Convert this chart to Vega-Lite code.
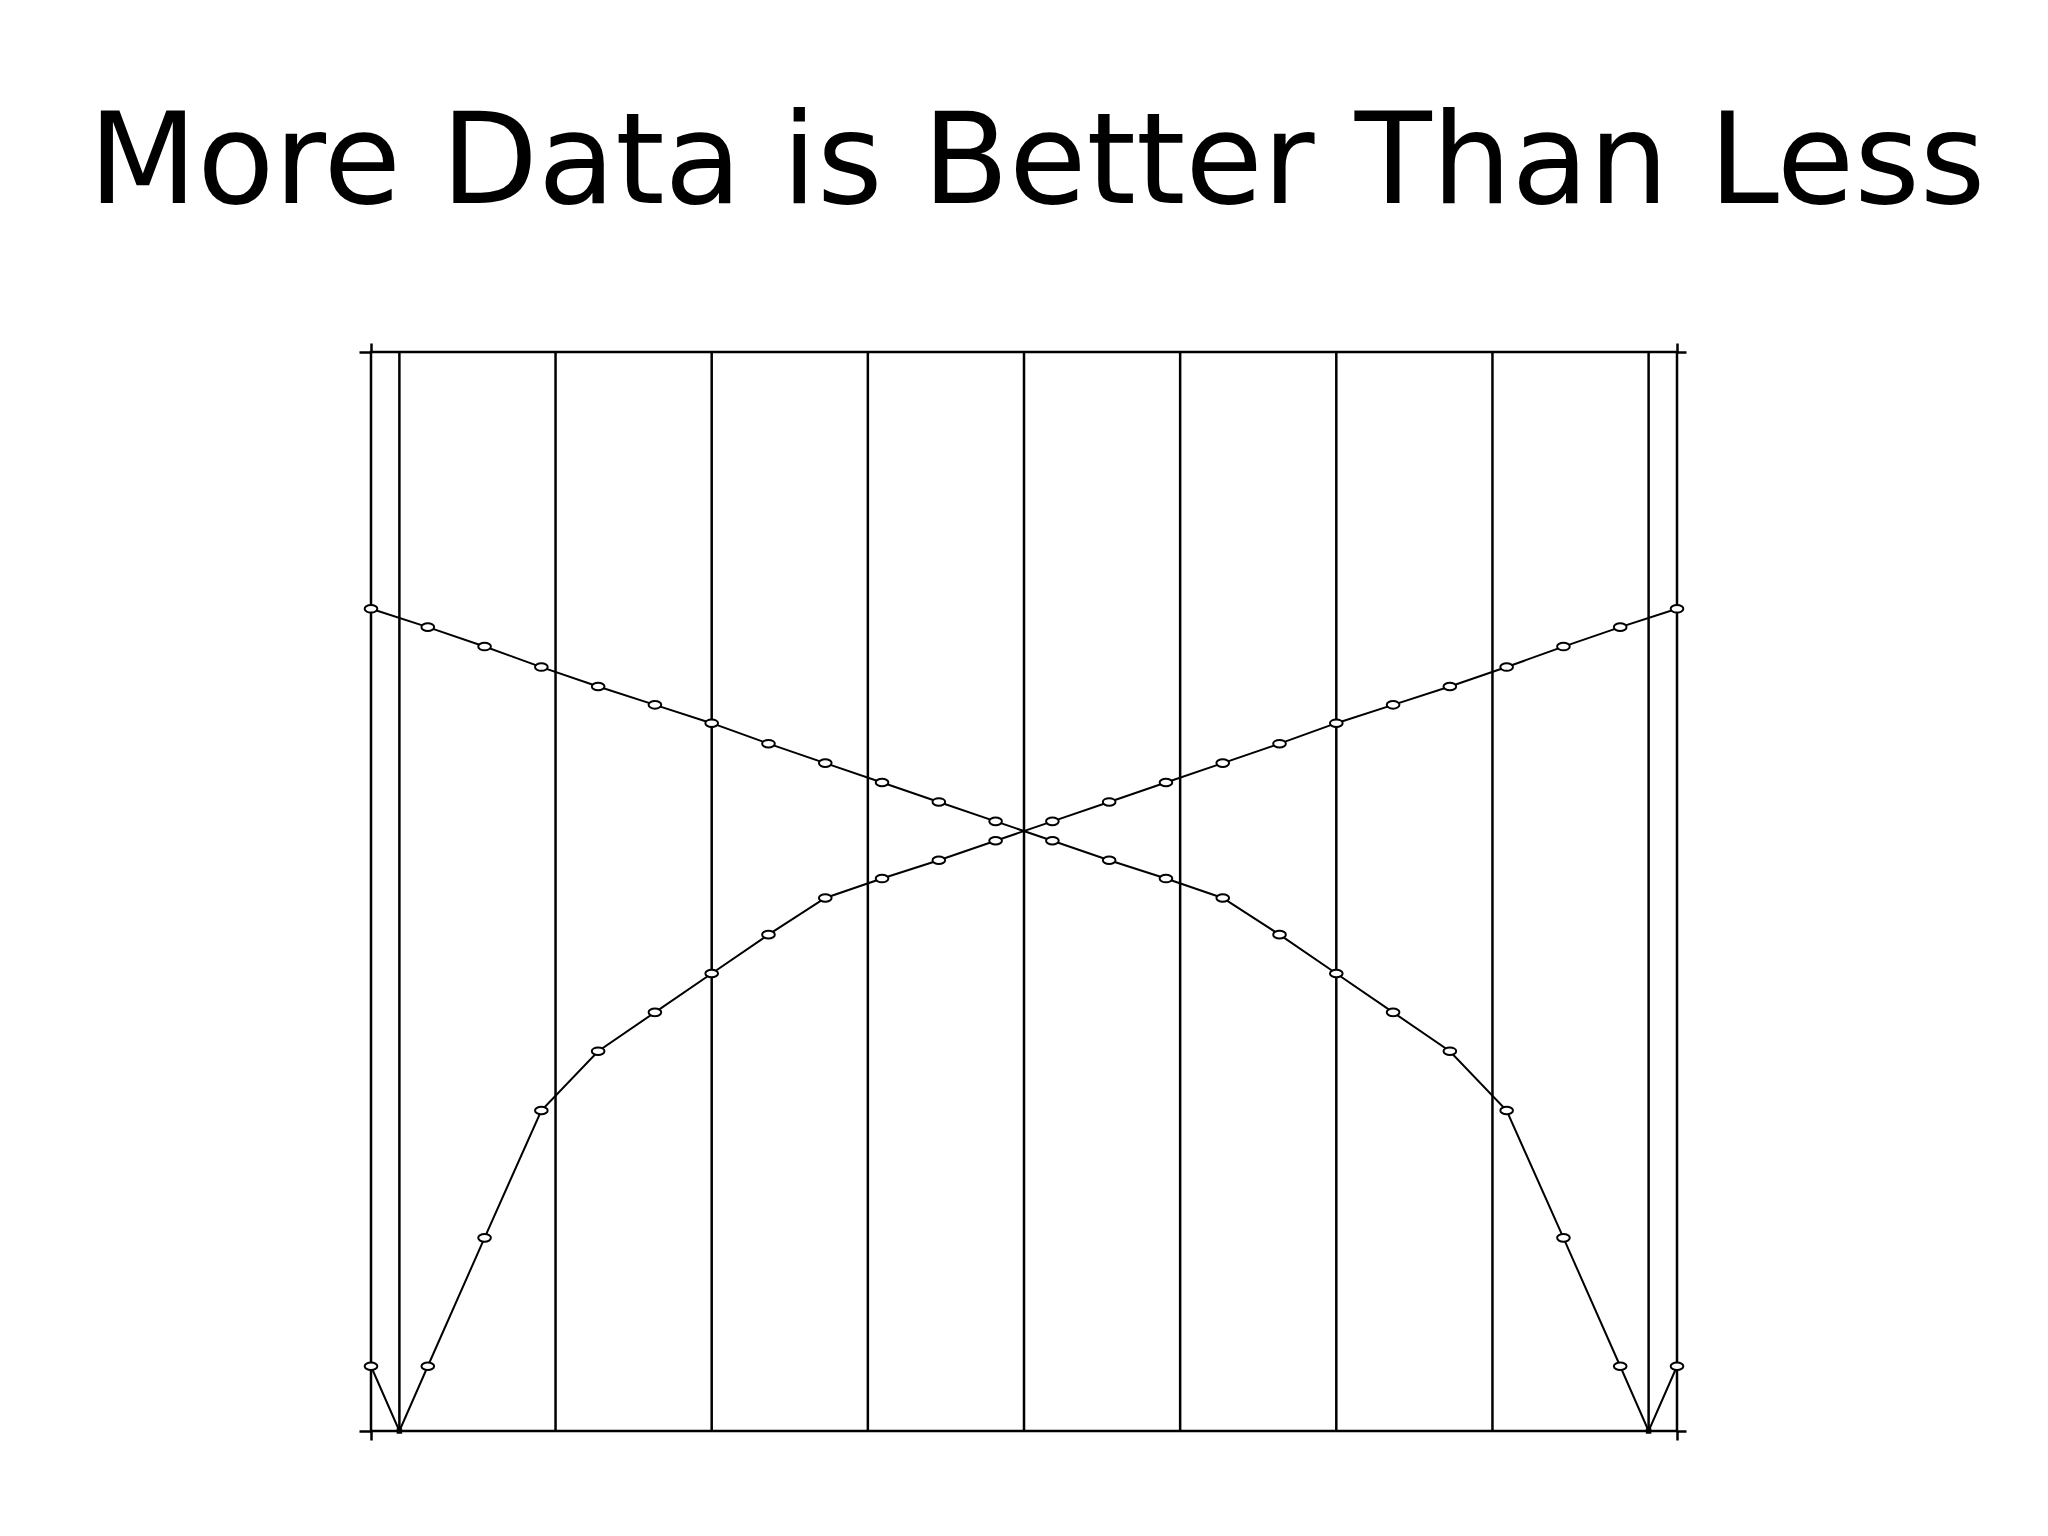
{
  "$schema": "https://vega.github.io/schema/vega-lite/v6.json",
  "width": 1306,
  "height": 1079,
  "autosize": "none",
  "padding": {"left": 371, "top": 352, "right": 371, "bottom": 105},
  "background": "white",
  "title": {
    "text": "More Data is Better Than Less",
    "font": "DejaVu Sans",
    "fontSize": 126,
    "fontWeight": "normal",
    "color": "black",
    "anchor": "middle",
    "baseline": "alphabetic",
    "offset": 13,
    "dx": 13
  },
  "config": {
    "view": {"stroke": "black", "strokeWidth": 2.5},
    "axis": {"labels": false, "domain": false, "grid": false, "title": null, "tickColor": "black", "tickWidth": 2.5}
  },
  "datasets": {
    "curves": [
      {"series": "A", "x": 0, "y": 76.2},
      {"series": "A", "x": 1, "y": 74.5},
      {"series": "A", "x": 2, "y": 72.7},
      {"series": "A", "x": 3, "y": 70.8},
      {"series": "A", "x": 4, "y": 69.0},
      {"series": "A", "x": 5, "y": 67.3},
      {"series": "A", "x": 6, "y": 65.6},
      {"series": "A", "x": 7, "y": 63.7},
      {"series": "A", "x": 8, "y": 61.9},
      {"series": "A", "x": 9, "y": 60.1},
      {"series": "A", "x": 10, "y": 58.3},
      {"series": "A", "x": 11, "y": 56.5},
      {"series": "A", "x": 12, "y": 54.7},
      {"series": "A", "x": 13, "y": 52.9},
      {"series": "A", "x": 14, "y": 51.2},
      {"series": "A", "x": 15, "y": 49.4},
      {"series": "A", "x": 16, "y": 46.0},
      {"series": "A", "x": 17, "y": 42.4},
      {"series": "A", "x": 18, "y": 38.8},
      {"series": "A", "x": 19, "y": 35.2},
      {"series": "A", "x": 20, "y": 29.7},
      {"series": "A", "x": 21, "y": 17.9},
      {"series": "A", "x": 22, "y": 6.0},
      {"series": "A", "x": 22.5, "y": 0},
      {"series": "A", "x": 23, "y": 6.0},
      {"series": "B", "x": 0, "y": 6.0},
      {"series": "B", "x": 0.5, "y": 0},
      {"series": "B", "x": 1, "y": 6.0},
      {"series": "B", "x": 2, "y": 17.9},
      {"series": "B", "x": 3, "y": 29.7},
      {"series": "B", "x": 4, "y": 35.2},
      {"series": "B", "x": 5, "y": 38.8},
      {"series": "B", "x": 6, "y": 42.4},
      {"series": "B", "x": 7, "y": 46.0},
      {"series": "B", "x": 8, "y": 49.4},
      {"series": "B", "x": 9, "y": 51.2},
      {"series": "B", "x": 10, "y": 52.9},
      {"series": "B", "x": 11, "y": 54.7},
      {"series": "B", "x": 12, "y": 56.5},
      {"series": "B", "x": 13, "y": 58.3},
      {"series": "B", "x": 14, "y": 60.1},
      {"series": "B", "x": 15, "y": 61.9},
      {"series": "B", "x": 16, "y": 63.7},
      {"series": "B", "x": 17, "y": 65.6},
      {"series": "B", "x": 18, "y": 67.3},
      {"series": "B", "x": 19, "y": 69.0},
      {"series": "B", "x": 20, "y": 70.8},
      {"series": "B", "x": 21, "y": 72.7},
      {"series": "B", "x": 22, "y": 74.5},
      {"series": "B", "x": 23, "y": 76.2}
    ],
    "grid": [
      {"gx": 0.5}, {"gx": 3.25}, {"gx": 6}, {"gx": 8.75}, {"gx": 11.5},
      {"gx": 14.25}, {"gx": 17}, {"gx": 19.75}, {"gx": 22.5}
    ]
  },
  "resolve": {"axis": {"x": "independent", "y": "independent"}},
  "layer": [
    {
      "data": {"name": "grid"},
      "mark": {"type": "rule", "color": "black", "strokeWidth": 2.5},
      "encoding": {
        "x": {"field": "gx", "type": "quantitative", "scale": {"domain": [0, 23], "nice": false, "zero": false}, "axis": null}
      }
    },
    {
      "data": {"name": "curves"},
      "mark": {"type": "line", "color": "black", "strokeWidth": 2},
      "encoding": {
        "x": {"field": "x", "type": "quantitative", "scale": {"domain": [0, 23], "nice": false, "zero": false},
              "axis": {"orient": "bottom", "values": [0, 23], "tickSize": 9}},
        "y": {"field": "y", "type": "quantitative", "scale": {"domain": [0, 100], "nice": false},
              "axis": {"orient": "left", "values": [0, 100], "tickSize": 12}},
        "detail": {"field": "series"}
      }
    },
    {
      "data": {"name": "curves"},
      "transform": [{"filter": "datum.y > 0"}],
      "mark": {"type": "point", "shape": "M -1 0 A 1 0.6 0 1 1 1 0 A 1 0.6 0 1 1 -1 0 Z", "size": 160, "filled": true, "fill": "white", "stroke": "black", "strokeWidth": 2, "opacity": 1},
      "encoding": {
        "x": {"field": "x", "type": "quantitative", "axis": {"orient": "top", "values": [0, 23], "tickSize": 9}},
        "y": {"field": "y", "type": "quantitative", "axis": {"orient": "right", "values": [0, 100], "tickSize": 9}}
      }
    },
    {
      "data": {"name": "curves"},
      "transform": [{"filter": "datum.y == 0"}],
      "mark": {"type": "point", "shape": "square", "size": 30, "filled": true, "color": "black", "opacity": 1},
      "encoding": {
        "x": {"field": "x", "type": "quantitative", "axis": null},
        "y": {"field": "y", "type": "quantitative", "axis": null}
      }
    }
  ]
}
